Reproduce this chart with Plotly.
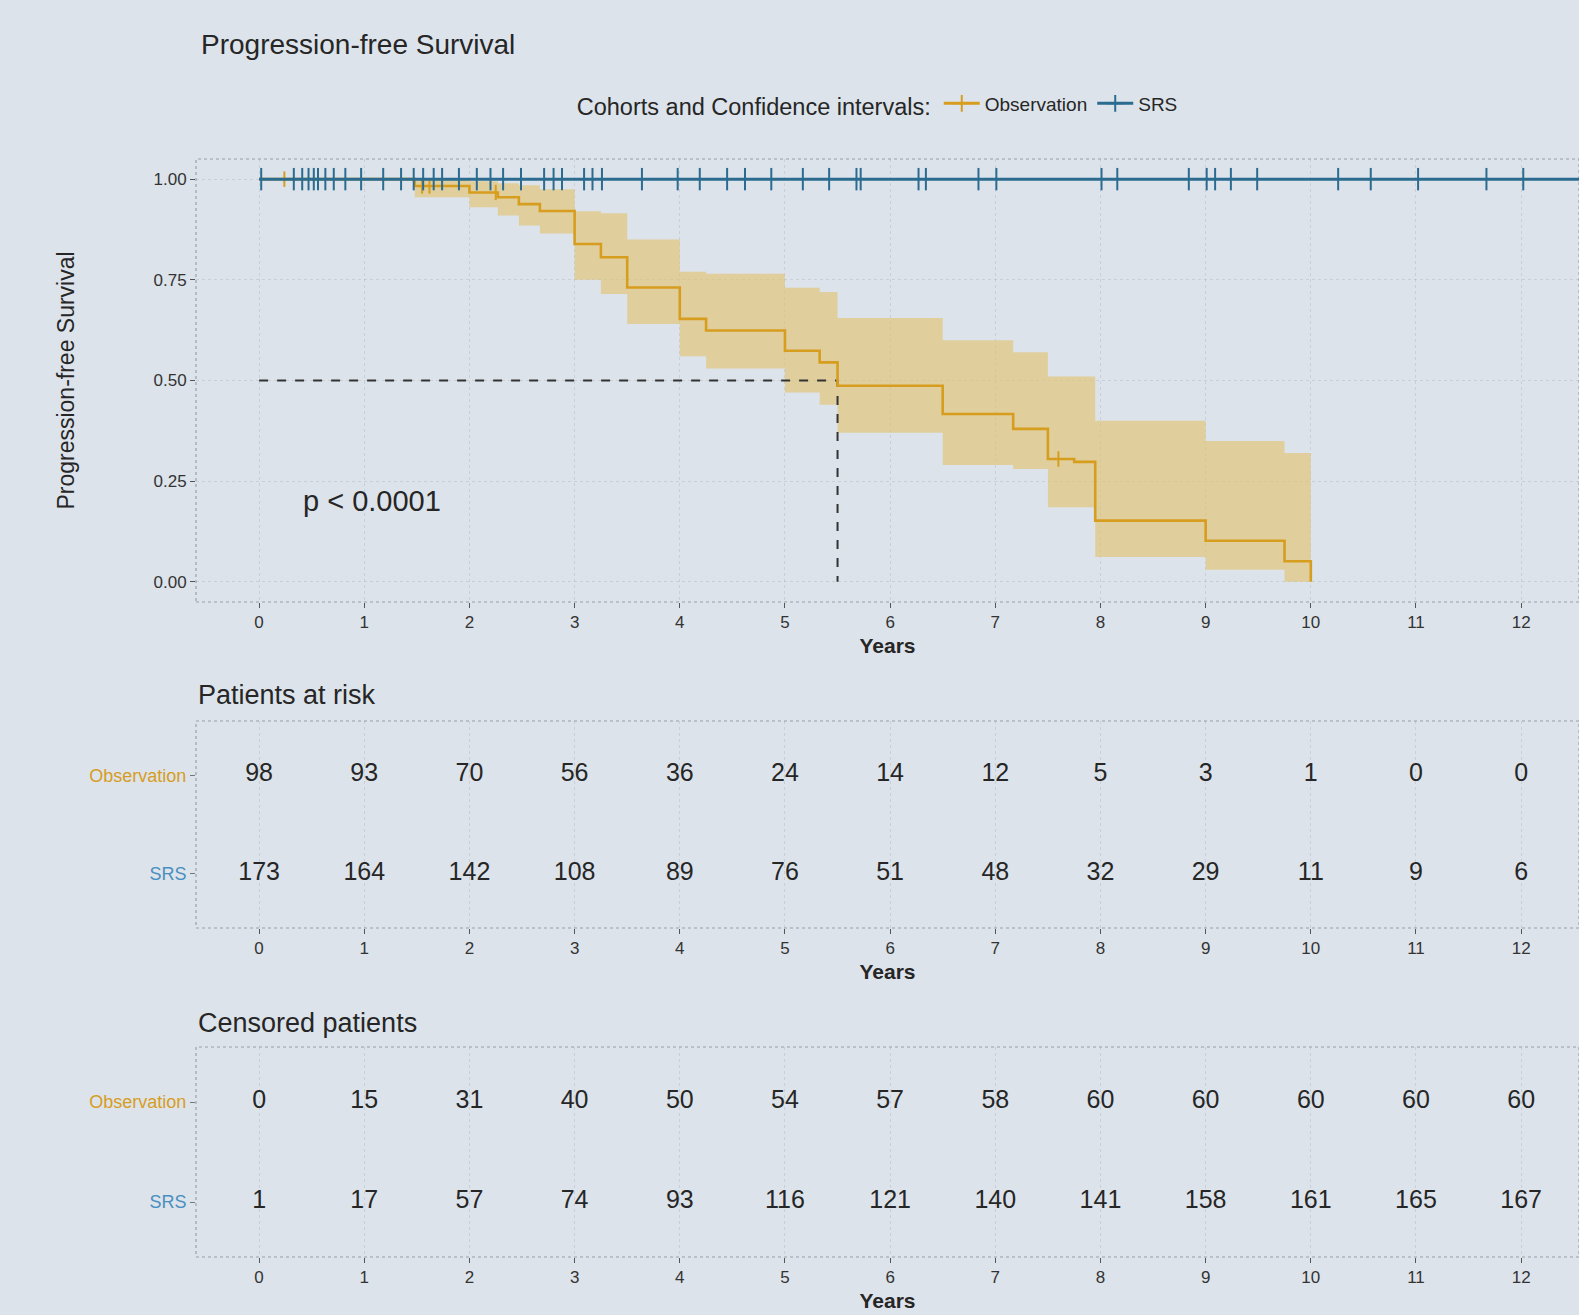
import plotly.graph_objects as go

# ---------------- data ----------------
years = list(range(0, 13))

# Kaplan-Meier step curve, Observation cohort
obs_time = [0, 1.48, 2.0, 2.27, 2.47, 2.67, 3.0, 3.25, 3.5, 4.0, 4.25, 5.0, 5.33, 5.5, 6.5, 7.17, 7.5, 7.75, 7.95, 9.0, 9.75, 10.0]
obs_surv = [1.0, 0.983, 0.967, 0.955, 0.938, 0.921, 0.839, 0.806, 0.731, 0.653, 0.624, 0.574, 0.545, 0.487, 0.417, 0.38, 0.305, 0.298, 0.152, 0.102, 0.051, 0.0]
obs_upper = [1.0, 1.0, 0.995, 0.99, 0.985, 0.975, 0.92, 0.915, 0.85, 0.77, 0.765, 0.73, 0.72, 0.655, 0.60, 0.57, 0.51, 0.51, 0.40, 0.35, 0.32, 0.32]
obs_lower = [1.0, 0.955, 0.93, 0.91, 0.885, 0.865, 0.75, 0.715, 0.64, 0.56, 0.53, 0.47, 0.44, 0.37, 0.29, 0.28, 0.185, 0.185, 0.062, 0.03, 0.0, 0.0]
obs_censor_times = [0.24, 1.55, 1.62, 2.25, 7.6]

# SRS cohort: no progression events
srs_time = [0, 12.6]
srs_surv = [1.0, 1.0]
srs_censor_times = [0.02, 0.33, 0.41, 0.47, 0.52, 0.56, 0.63, 0.71, 0.82, 0.97, 1.18, 1.35, 1.47,
                    1.56, 1.66, 1.74, 1.90, 2.07, 2.20, 2.32, 2.49, 2.71, 2.80, 2.88, 3.09, 3.17,
                    3.26, 3.64, 3.98, 4.19, 4.45, 4.62, 4.87, 5.17, 5.42, 5.68, 5.72, 6.27, 6.34,
                    6.84, 7.01, 8.01, 8.16, 8.84, 9.01, 9.09, 9.24, 9.49, 10.26, 10.57, 11.02,
                    11.67, 12.02]

groups = ["Observation", "SRS"]
obs_risk = [98, 93, 70, 56, 36, 24, 14, 12, 5, 3, 1, 0, 0]
srs_risk = [173, 164, 142, 108, 89, 76, 51, 48, 32, 29, 11, 9, 6]
obs_cens = [0, 15, 31, 40, 50, 54, 57, 58, 60, 60, 60, 60, 60]
srs_cens = [1, 17, 57, 74, 93, 116, 121, 140, 141, 158, 161, 165, 167]
p_text = "p < 0.0001"

# ---------------- style ----------------
BG = "#dde3ea"
ORANGE = "#d69d1f"
ORANGE_FILL = "rgba(226,196,110,0.62)"
BLUE = "#2b6b90"
BLUE_LBL = "#4a8fc0"
TXT = "#262626"
GRID = "rgba(140,148,158,0.25)"
FONT = "Liberation Sans, Arial, sans-serif"
W, H = 1579, 1315


def step_value(t, times, vals):
    v = vals[0]
    for ti, vi in zip(times, vals):
        if ti <= t:
            v = vi
    return v


median_t = next(t for t, s in zip(obs_time, obs_surv) if s <= 0.5)

fig = go.Figure()

# CI band (Observation)
fig.add_trace(go.Scatter(x=obs_time, y=obs_lower, mode="lines", line=dict(width=0, shape="hv"),
                         showlegend=False, hoverinfo="skip", xaxis="x", yaxis="y"))
fig.add_trace(go.Scatter(x=obs_time, y=obs_upper, mode="lines", line=dict(width=0, shape="hv"),
                         fill="tonexty", fillcolor=ORANGE_FILL, showlegend=False, hoverinfo="skip",
                         xaxis="x", yaxis="y"))

# median lines
fig.add_trace(go.Scatter(x=[0, median_t, median_t], y=[0.5, 0.5, 0], mode="lines",
                         line=dict(color="#333333", width=2, dash="dash"), showlegend=False,
                         hoverinfo="skip", xaxis="x", yaxis="y"))

# Observation curve
fig.add_trace(go.Scatter(x=obs_time, y=obs_surv, mode="lines", line=dict(color=ORANGE, width=2.6, shape="hv"),
                         showlegend=False, xaxis="x", yaxis="y"))
fig.add_trace(go.Scatter(x=obs_censor_times, y=[step_value(t, obs_time, obs_surv) for t in obs_censor_times],
                         mode="markers", marker=dict(symbol="line-ns", size=11, line=dict(color=ORANGE, width=2)),
                         showlegend=False, xaxis="x", yaxis="y"))

# SRS curve
fig.add_trace(go.Scatter(x=srs_time, y=srs_surv, mode="lines", line=dict(color=BLUE, width=3, shape="hv"),
                         showlegend=False, xaxis="x", yaxis="y"))
fig.add_trace(go.Scatter(x=srs_censor_times, y=[step_value(t, srs_time, srs_surv) for t in srs_censor_times],
                         mode="markers", marker=dict(symbol="line-ns", size=16, line=dict(color=BLUE, width=2)),
                         showlegend=False, xaxis="x", yaxis="y"))

# legend entries
fig.add_trace(go.Scatter(x=[None], y=[None], mode="lines+markers", name="Observation",
                         line=dict(color=ORANGE, width=3),
                         marker=dict(symbol="cross-thin", size=12, line=dict(color=ORANGE, width=2)),
                         xaxis="x", yaxis="y"))
fig.add_trace(go.Scatter(x=[None], y=[None], mode="lines+markers", name="SRS",
                         line=dict(color=BLUE, width=3),
                         marker=dict(symbol="cross-thin", size=12, line=dict(color=BLUE, width=2)),
                         xaxis="x", yaxis="y"))

# risk table & censored table
for vals_obs, vals_srs, xa, ya in [(obs_risk, srs_risk, "x2", "y2"), (obs_cens, srs_cens, "x3", "y3")]:
    fig.add_trace(go.Scatter(x=years, y=[2] * len(years), mode="text", text=[str(v) for v in vals_obs],
                             textfont=dict(size=25, color=TXT, family=FONT), showlegend=False,
                             hoverinfo="skip", xaxis=xa, yaxis=ya))
    fig.add_trace(go.Scatter(x=years, y=[1] * len(years), mode="text", text=[str(v) for v in vals_srs],
                             textfont=dict(size=25, color=TXT, family=FONT), showlegend=False,
                             hoverinfo="skip", xaxis=xa, yaxis=ya))

x_left = 196 / W
XR = [-0.6, 12.55]
dom_main = [(H - 602) / H, (H - 159) / H]
dom_risk = [(H - 928) / H, (H - 721) / H]
dom_cens = [(H - 1257) / H, (H - 1047) / H]

common_x = dict(range=XR, tickvals=years, ticktext=[str(y) for y in years], domain=[x_left, 1],
                showgrid=True, gridcolor=GRID, griddash="dot", gridwidth=1, zeroline=False,
                ticks="outside", ticklen=5, tickcolor="#555", tickwidth=1,
                tickfont=dict(size=17, color="#333", family=FONT),
                title=dict(text="<b>Years</b>", font=dict(size=21, color=TXT, family=FONT), standoff=6),
                showline=False, fixedrange=True)

tick_lbls = ['<span style="color:%s">Observation</span>' % ORANGE,
             '<span style="color:%s">SRS</span>' % BLUE_LBL]

fig.update_layout(
    width=W, height=H,
    paper_bgcolor=BG, plot_bgcolor=BG,
    margin=dict(l=0, r=0, t=0, b=0),
    font=dict(family=FONT, color=TXT),
    xaxis=dict(common_x, anchor="y"),
    xaxis2=dict(common_x, anchor="y2"),
    xaxis3=dict(common_x, anchor="y3"),
    yaxis=dict(domain=dom_main, range=[-0.05, 1.05], tickvals=[0, 0.25, 0.5, 0.75, 1],
               ticktext=["0.00", "0.25", "0.50", "0.75", "1.00"], anchor="x",
               showgrid=True, gridcolor=GRID, griddash="dot", zeroline=False,
               ticks="outside", ticklen=5, tickcolor="#555",
               tickfont=dict(size=17, color="#333", family=FONT),
               title=dict(text="Progression-free Survival", font=dict(size=23, color=TXT, family=FONT),
                          standoff=72), fixedrange=True),
    yaxis2=dict(domain=dom_risk, range=[0.45, 2.55], tickvals=[2, 1], ticktext=tick_lbls, anchor="x2",
                showgrid=False, zeroline=False, ticks="outside", ticklen=5, tickcolor="#777",
                tickfont=dict(size=18, family=FONT), fixedrange=True),
    yaxis3=dict(domain=dom_cens, range=[0.45, 2.55], tickvals=[2, 1], ticktext=tick_lbls, anchor="x3",
                showgrid=False, zeroline=False, ticks="outside", ticklen=5, tickcolor="#777",
                tickfont=dict(size=18, family=FONT), fixedrange=True),
    legend=dict(orientation="h", x=0.364, xanchor="left", y=1 - 105 / H, yanchor="middle",
                bgcolor="rgba(0,0,0,0)", traceorder="normal",
                title=dict(text="Cohorts and Confidence intervals:", side="left",
                           font=dict(size=23.5, color=TXT, family=FONT)),
                font=dict(size=19, color=TXT, family=FONT), itemwidth=36),
    showlegend=True,
)

# panel borders (dotted, as in the reference)
for xr, yr in [("x domain", "y domain"), ("x2 domain", "y2 domain"), ("x3 domain", "y3 domain")]:
    fig.add_shape(type="rect", xref=xr, yref=yr, x0=0, x1=1, y0=0, y1=1,
                  line=dict(color="rgba(110,118,128,0.6)", width=1.2, dash="dot"), layer="below")

# titles & annotations
fig.add_annotation(text="Progression-free Survival", xref="paper", yref="paper", x=199 / W, y=1 - 45 / H,
                   xanchor="left", yanchor="middle", showarrow=False, font=dict(size=28, color=TXT, family=FONT))
fig.add_annotation(text="Patients at risk", xref="paper", yref="paper", x=196 / W, y=1 - 695 / H,
                   xanchor="left", yanchor="middle", showarrow=False, font=dict(size=27, color=TXT, family=FONT))
fig.add_annotation(text="Censored patients", xref="paper", yref="paper", x=196 / W, y=1 - 1023 / H,
                   xanchor="left", yanchor="middle", showarrow=False, font=dict(size=27, color=TXT, family=FONT))
fig.add_annotation(text=p_text, xref="x", yref="y", x=0.4, y=0.2, xanchor="left", yanchor="middle",
                   showarrow=False, font=dict(size=29, color=TXT, family=FONT))

fig.write_html("out.html", config={"displayModeBar": False},
               post_script="document.body.style.margin='0px';document.body.style.padding='0px';")
